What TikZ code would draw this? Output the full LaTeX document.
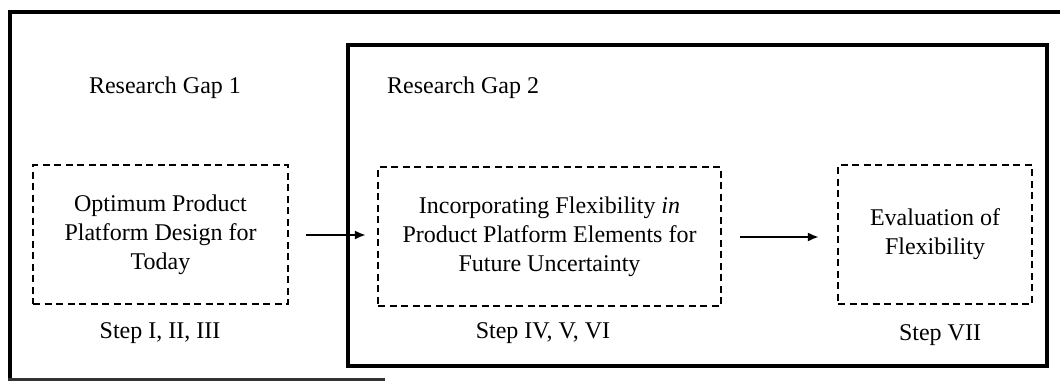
\documentclass[tikz,border=0pt]{standalone}
\usepackage{fontspec}
\setmainfont{Liberation Serif}
\usetikzlibrary{arrows.meta}
\tikzset{
  stagebox/.style={draw, line width=2.1pt, dash pattern=on 7pt off 4.5pt,
    minimum height=139pt, align=center, inner sep=0pt,
    font=\fontsize{24}{29}\selectfont},
  caption/.style={font=\fontsize{24}{29}\selectfont, inner sep=0pt},
  flow/.style={line width=2.2pt, -{Latex[length=11pt,width=9pt]}},
  frame/.style={line width=3.2pt}
}
\begin{document}
\begin{tikzpicture}[x=1pt,y=-1pt]
\useasboundingbox (0,0) rectangle (1060,383);
% outer frame, open on the right
\draw[frame] (10,379.5) -- (10,12) -- (1060,12);
\draw[line width=2.4pt, black!80] (8.4,379.5) -- (385,379.5);
% frame around the second research gap
\draw[frame] (348,45) rectangle (1047,366);

\node[caption] (gap1) at (165,88) {Research Gap 1};
\node[caption, anchor=west] (gap2) at (387,88) {Research Gap 2};

\node[stagebox, minimum width=255pt] (today) at (160.5,234.5)
  {Optimum Product\\Platform Design for\\Today};
\node[stagebox, minimum width=343pt] (flex) at (549.5,236.5)
  {Incorporating Flexibility \textit{in}\\Product Platform Elements for\\Future Uncertainty};
\node[stagebox, minimum width=194pt] (eval) at (935,234.5)
  {Evaluation of\\Flexibility};

\node[caption] (s1) at (160,333) {Step I, II, III};
\node[caption] (s2) at (543,333) {Step IV, V, VI};
\node[caption] (s3) at (940,335) {Step VII};

\draw[flow, shorten <=17pt, shorten >=11pt] (today.east |- 0,235) -- (flex.west |- 0,235);
\draw[flow, shorten <=18pt, shorten >=18pt] (flex.east |- 0,237) -- (eval.west |- 0,237);
\end{tikzpicture}
\end{document}
